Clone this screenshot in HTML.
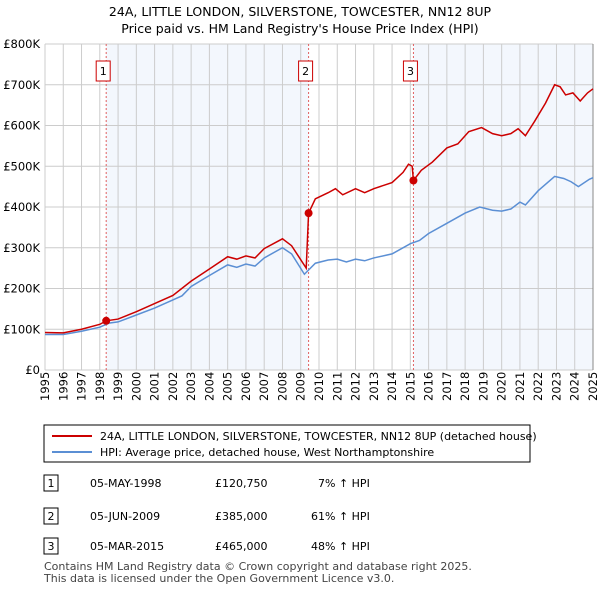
<!DOCTYPE html>
<html><head><meta charset="utf-8"><style>
body{margin:0;width:600px;height:590px;background:#fff;font-family:"Liberation Sans","DejaVu Sans",sans-serif;overflow:hidden}
svg text{font-family:"DejaVu Sans","Liberation Sans",sans-serif}
</style></head><body>
<svg width="600" height="590" xmlns="http://www.w3.org/2000/svg" id="svg">
<text x="300" y="16" text-anchor="middle" font-size="12.5">24A, LITTLE LONDON, SILVERSTONE, TOWCESTER, NN12 8UP</text>
<text x="300" y="33" text-anchor="middle" font-size="12.5">Price paid vs. HM Land Registry's House Price Index (HPI)</text>
<g id="plot"></g>
<g>
<rect x="44" y="425" width="486" height="37" fill="#fff" stroke="#000" stroke-width="1"/>
<line x1="52" y1="436" x2="92" y2="436" stroke="#cc0000" stroke-width="2"/>
<text x="100" y="440" font-size="11">24A, LITTLE LONDON, SILVERSTONE, TOWCESTER, NN12 8UP (detached house)</text>
<line x1="52" y1="452" x2="92" y2="452" stroke="#5b8fd4" stroke-width="2"/>
<text x="100" y="456" font-size="11">HPI: Average price, detached house, West Northamptonshire</text>
</g>
<g font-size="11">
<rect x="44" y="475" width="14" height="16" fill="#fff" stroke="#000"/><text x="51" y="487" text-anchor="middle">1</text>
<text x="90" y="487">05-MAY-1998</text><text x="215" y="487">£120,750</text><text x="318" y="487">7% ↑ HPI</text>
<rect x="44" y="508" width="14" height="16" fill="#fff" stroke="#000"/><text x="51" y="520" text-anchor="middle">2</text>
<text x="90" y="520">05-JUN-2009</text><text x="215" y="520">£385,000</text><text x="311" y="520">61% ↑ HPI</text>
<rect x="44" y="538" width="14" height="16" fill="#fff" stroke="#000"/><text x="51" y="550" text-anchor="middle">3</text>
<text x="90" y="550">05-MAR-2015</text><text x="215" y="550">£465,000</text><text x="311" y="550">48% ↑ HPI</text>
</g>
<text x="44" y="570" font-size="11" fill="#444">Contains HM Land Registry data © Crown copyright and database right 2025.</text>
<text x="44" y="582" font-size="11" fill="#444">This data is licensed under the Open Government Licence v3.0.</text>
</svg>
<script>
const yTicks=[0,100,200,300,400,500,600,700,800];
const yTickLabels=["£0","£100K","£200K","£300K","£400K","£500K","£600K","£700K","£800K"];
const xYears=[1995,1996,1997,1998,1999,2000,2001,2002,2003,2004,2005,2006,2007,2008,2009,2010,2011,2012,2013,2014,2015,2016,2017,2018,2019,2020,2021,2022,2023,2024,2025];
const saleDates=[1998.35,2009.43,2015.17];
const salePrices=[120.75,385,465];
const saleLabels=["1","2","3"];
const hpiT=[1995,1996,1997,1998,1998.5,1999,2000,2001,2002,2002.5,2003,2004,2005,2005.5,2006,2006.5,2007,2008,2008.5,2009.2,2009.8,2010.5,2011,2011.5,2012,2012.5,2013,2014,2015,2015.5,2016,2017,2018,2018.8,2019.5,2020,2020.5,2021,2021.3,2022,2022.9,2023.4,2023.8,2024.2,2024.8,2025];
const hpiV=[87,87,95,105,115,118,135,152,172,182,205,232,258,252,260,255,275,300,285,235,262,270,272,265,272,268,275,285,310,318,335,360,385,400,392,390,395,412,405,440,475,470,462,450,468,472];
const redT=[1995,1996,1997,1998,1998.35,1999,2000,2001,2002,2003,2004,2005,2005.5,2006,2006.5,2007,2008,2008.5,2009.3,2009.43,2009.8,2010.5,2010.9,2011.3,2012,2012.5,2013,2014,2014.6,2014.9,2015.1,2015.17,2015.6,2016.2,2017,2017.6,2018.2,2018.9,2019.5,2020,2020.5,2020.9,2021.3,2021.8,2022.4,2022.9,2023.2,2023.5,2023.9,2024.3,2024.7,2025];
const redV=[92,91,100,112,120.75,125,143,163,183,218,248,278,272,280,275,298,322,305,250,385,420,435,445,430,445,435,445,460,485,505,500,465,490,510,545,555,585,595,580,575,580,592,575,610,655,700,695,675,680,660,680,690];
const X0=45,X1=593,Y0=370,Y1=44;
const xs=t=>X0+(t-1995)/30*(X1-X0);
const ys=v=>Y0-v/800*(Y0-Y1);
const NS="http://www.w3.org/2000/svg";
const g=document.getElementById('plot');
function mk(tag,attrs,parent){const e=document.createElementNS(NS,tag);for(const k in attrs)e.setAttribute(k,attrs[k]);(parent||g).appendChild(e);return e;}
let e;
e=mk('rect',{x:xs(saleDates[0]),y:Y1,width:xs(saleDates[1])-xs(saleDates[0]),height:Y0-Y1,fill:'#eef3fc',opacity:0.7});


e=mk('rect',{x:xs(saleDates[2]),y:Y1,width:X1-xs(saleDates[2]),height:Y0-Y1,fill:'#eef3fc',opacity:0.7});


xYears.forEach(y=>{
 e=mk('line',{x1:xs(y),x2:xs(y),y1:Y1,y2:Y0,stroke:'#cccccc','stroke-width':1});
 
 
 e=mk('text',{x:0,y:0,'font-size':11.5,transform:`translate(${xs(y)+4},${Y0+31}) rotate(-90)`});
 e.textContent=y;
 
 
});
yTicks.forEach((v,i)=>{
 e=mk('line',{x1:X0,x2:X1,y1:ys(v),y2:ys(v),stroke:'#cccccc','stroke-width':1});
 
 
 e=mk('text',{x:40,y:ys(v)+4,'font-size':11.5,'text-anchor':'end'});
 e.textContent=yTickLabels[i];
 
 
});
e=mk('line',{x1:X1,x2:X1,y1:Y1,y2:Y0,stroke:'#888','stroke-width':1});


saleDates.forEach((d,i)=>{
 e=mk('line',{x1:xs(d),x2:xs(d),y1:Y1,y2:Y0,stroke:'#e06060','stroke-width':1,'stroke-dasharray':'2,2'});
 
 
 e=mk('rect',{x:xs(d)-10,y:61,width:14,height:20,fill:'#fff',stroke:'#cc0000'});
 
 
 e=mk('text',{x:xs(d)-3,y:75,'font-size':11,'text-anchor':'middle'});
 e.textContent=saleLabels[i];
 
 
});
e=mk('polyline',{points:hpiT.map((t,i)=>xs(t)+','+ys(hpiV[i])).join(' '),fill:'none',stroke:'#5b8fd4','stroke-width':1.5});


e=mk('polyline',{points:redT.map((t,i)=>xs(t)+','+ys(redV[i])).join(' '),fill:'none',stroke:'#cc0000','stroke-width':1.5});


saleDates.forEach((d,i)=>{
 e=mk('circle',{cx:xs(d),cy:ys(salePrices[i]),r:4,fill:'#cc0000'});
 
 
});
</script>
</body></html>
